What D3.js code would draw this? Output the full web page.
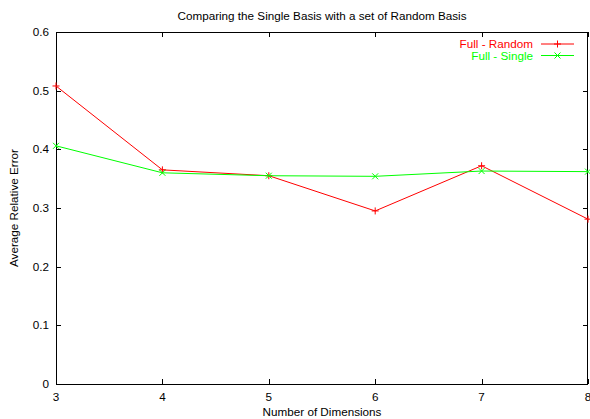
<!DOCTYPE html>
<html>
<head>
<meta charset="utf-8">
<script src="https://cdn.jsdelivr.net/npm/d3@7/dist/d3.min.js"></script>
<style>
body { margin: 0; background: #fff; }
svg { display: block; font-family: "Liberation Sans", Arial, sans-serif; }
</style>
</head>
<body>
<svg id="chart" width="590" height="419"></svg>
<script>
const dimensions = [3, 4, 5, 6, 7, 8];
const fullRandom = [0.508, 0.365, 0.355, 0.295, 0.372, 0.281];
const fullSingle = [0.406, 0.360, 0.355, 0.354, 0.363, 0.362];
const yTicks = [0, 0.1, 0.2, 0.3, 0.4, 0.5, 0.6];
const xTicks = [3, 4, 5, 6, 7, 8];
const seriesNames = ["Full - Random", "Full - Single"];

(function () {
const svg = d3.select("#chart");
const pL = 56, pR = 588, pT = 32, pB = 384;
const x = d3.scaleLinear().domain([3, 8]).range([pL, pR]);
const y = d3.scaleLinear().domain([0, 0.6]).range([pB, pT]);
const fs = 11.7;

// title
svg.append("text").attr("x", (pL + pR) / 2).attr("y", 20)
  .attr("text-anchor", "middle").attr("font-size", fs)
  .text("Comparing the Single Basis with a set of Random Basis");

// ticks (inner, mirrored)
const tl = 5;
const g = svg.append("g").attr("stroke", "#000").attr("stroke-width", 1);
yTicks.forEach(t => {
  const yy = Math.round(y(t)) + 0.5;
  g.append("line").attr("x1", pL).attr("x2", pL + tl).attr("y1", yy).attr("y2", yy);
  g.append("line").attr("x1", pR - tl).attr("x2", pR).attr("y1", yy).attr("y2", yy);
  svg.append("text").attr("x", pL - 7).attr("y", y(t)).attr("dy", "0.35em")
    .attr("text-anchor", "end").attr("font-size", fs)
    .text(t === 0 ? "0" : d3.format(".1f")(t));
});
xTicks.forEach(t => {
  const xx = Math.round(x(t)) + 0.5;
  g.append("line").attr("x1", xx).attr("x2", xx).attr("y1", pB).attr("y2", pB - tl);
  g.append("line").attr("x1", xx).attr("x2", xx).attr("y1", pT).attr("y2", pT + tl);
  svg.append("text").attr("x", x(t)).attr("y", 401)
    .attr("text-anchor", "middle").attr("font-size", fs).text(t);
});

// frame
svg.append("rect").attr("x", pL + 0.5).attr("y", pT + 0.5)
  .attr("width", pR - pL - 1).attr("height", pB - pT)
  .attr("fill", "none").attr("stroke", "#000").attr("stroke-width", 1);

// axis labels
svg.append("text").attr("x", (pL + pR) / 2).attr("y", 416)
  .attr("text-anchor", "middle").attr("font-size", fs).text("Number of Dimensions");
svg.append("text").attr("transform", `translate(18,${(pT + pB) / 2}) rotate(-90)`)
  .attr("text-anchor", "middle").attr("font-size", fs).text("Average Relative Error");

const line = d3.line().x(d => x(d[0])).y(d => y(d[1]));
const ms = 3.5;
function plus(sel, cx, cy, color) {
  sel.append("path").attr("d", `M${cx - ms},${cy}H${cx + ms}M${cx},${cy - ms}V${cy + ms}`)
    .attr("stroke", color).attr("stroke-width", 1).attr("fill", "none");
}
function cross(sel, cx, cy, color) {
  const m = 3;
  sel.append("path").attr("d", `M${cx - m},${cy - m}L${cx + m},${cy + m}M${cx - m},${cy + m}L${cx + m},${cy - m}`)
    .attr("stroke", color).attr("stroke-width", 1).attr("fill", "none");
}

const series = [
  { name: seriesNames[0], vals: fullRandom, color: "#ff0000", marker: plus, ly: 44 },
  { name: seriesNames[1], vals: fullSingle, color: "#00ff00", marker: cross, ly: 55.5 }
];
series.forEach(s => {
  const pts = dimensions.map((d, i) => [d, s.vals[i]]);
  const gg = svg.append("g");
  gg.append("path").attr("d", line(pts)).attr("fill", "none")
    .attr("stroke", s.color).attr("stroke-width", 1);
  pts.forEach(p => s.marker(gg, x(p[0]), y(p[1]), s.color));
  svg.append("text").attr("x", 533).attr("y", s.ly).attr("dy", "0.35em")
    .attr("text-anchor", "end").attr("font-size", fs).attr("fill", s.color).text(s.name);
  svg.append("line").attr("x1", 541).attr("x2", 574).attr("y1", s.ly).attr("y2", s.ly)
    .attr("stroke", s.color).attr("stroke-width", 1);
  s.marker(svg, 557.5, s.ly, s.color);
});
})();
</script>
</body>
</html>
